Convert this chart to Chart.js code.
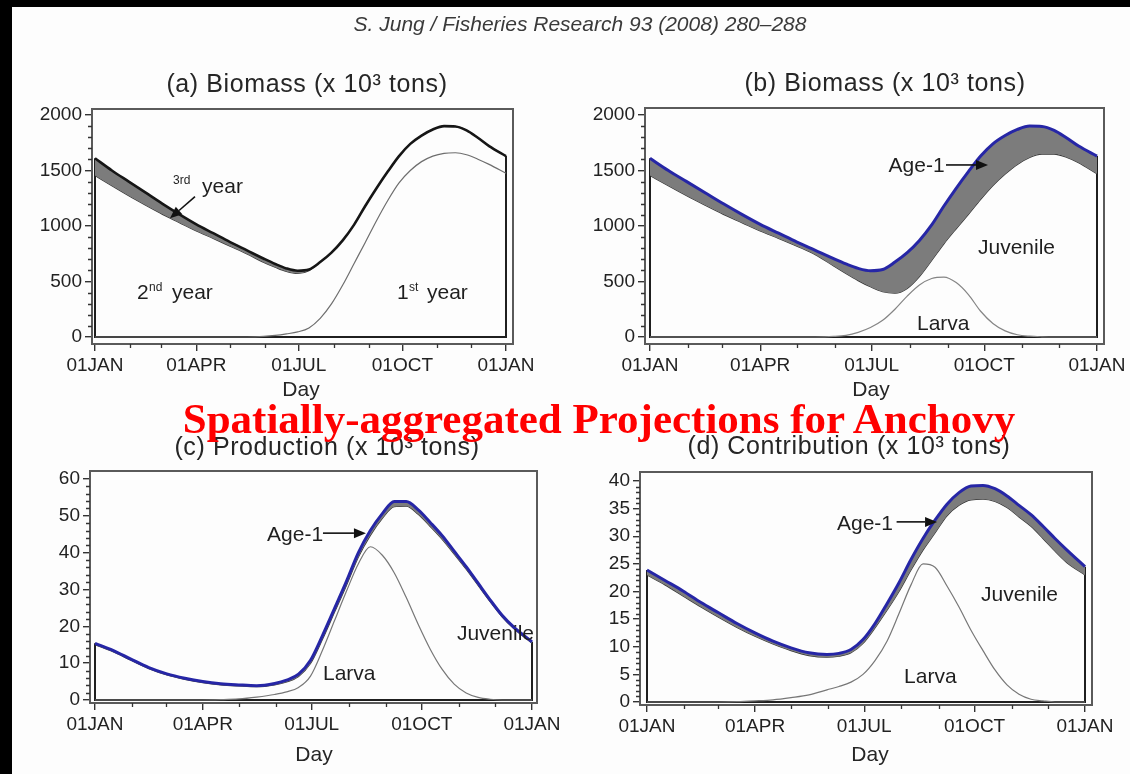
<!DOCTYPE html>
<html>
<head>
<meta charset="utf-8">
<script src="https://cdn.jsdelivr.net/npm/chart.js@4.4.1/dist/chart.umd.min.js"></script>
<style>
  html, body { margin: 0; padding: 0; background: #fff; }
  #page { position: relative; width: 1130px; height: 774px; overflow: hidden; background: #fdfdfd; }
  #page canvas { position: absolute; left: 0; top: 0; }
  .edge { position: absolute; background: #000; z-index: 5; }
  #header { position: absolute; left: 0; top: 12px; width: 1160px; text-align: center;
            font: italic 21px "Liberation Sans", Arial, sans-serif; color: #3a3a3a; white-space: nowrap; z-index: 4; }
  #banner { position: absolute; left: 599px; top: 397px; transform: translateX(-50%);
            font: bold 43px/43px "Liberation Serif", "Times New Roman", serif; color: #ff0000;
            white-space: nowrap; z-index: 6; }
</style>
</head>
<body>
<div id="page">
  <div class="edge" style="left:0;top:0;width:1130px;height:7px"></div>
  <div class="edge" style="left:0;top:0;width:12px;height:774px"></div>
  <div id="header">S. Jung / Fisheries Research 93 (2008) 280–288</div>
  <canvas id="panelA" width="1130" height="774"></canvas>
  <canvas id="panelB" width="1130" height="774"></canvas>
  <canvas id="panelC" width="1130" height="774"></canvas>
  <canvas id="panelD" width="1130" height="774"></canvas>
  <div id="banner">Spatially-aggregated Projections for Anchovy</div>
</div>
<script>
// ---- data: day of year (0 = 01JAN, 365 = next 01JAN) ----
const DAYS = [0, 15, 30, 45, 60, 75, 90, 105, 120, 135, 150, 160, 170, 180, 190, 200,
              210, 220, 230, 240, 250, 260, 270, 280, 290, 300, 310, 320, 330, 340, 350, 365];

const MONTH_TICKS  = [0, 90, 181, 273, 365];
const MONTH_LABELS = ['01JAN', '01APR', '01JUL', '01OCT', '01JAN'];
const MONTH_MINOR  = [31, 59, 120, 151, 212, 243, 304, 334];

// (a) and (b) biomass, x 10^3 tons
const biomassTotal = [1610, 1500, 1400, 1300, 1200, 1105, 1015, 935, 855, 780, 705, 658, 618, 597, 608, 675,
                      760, 870, 1010, 1180, 1340, 1490, 1630, 1740, 1815, 1870, 1900, 1897, 1862, 1795, 1720, 1630];
const biomassSecondYearTop = [1455, 1362, 1272, 1187, 1105, 1030, 955, 888, 818, 748, 672, 628, 590, 572, 598, 675,
                      760, 870, 1010, 1180, 1340, 1490, 1630, 1740, 1815, 1870, 1900, 1897, 1862, 1795, 1720, 1630];
const biomassFirstYear = [0, 0, 0, 0, 0, 0, 0, 0, 0, 0, 5, 14, 28, 46, 82, 168,
                      298, 468, 660, 852, 1048, 1230, 1388, 1500, 1580, 1630, 1655, 1660, 1642, 1602, 1555, 1475];
const biomassJuvenileTop = [1455, 1362, 1272, 1187, 1105, 1030, 955, 888, 818, 742, 640, 572, 508, 452, 408, 395,
                      438, 545, 690, 840, 975, 1105, 1240, 1365, 1468, 1555, 1618, 1648, 1648, 1620, 1570, 1470];
const biomassLarva = [0, 0, 0, 0, 0, 0, 0, 0, 0, 0, 5, 15, 42, 85, 150, 250,
                      368, 468, 527, 540, 490, 382, 232, 122, 55, 20, 7, 2, 0, 0, 0, 0];

// (c) production, x 10^3 tons
const productionTotal = [15.4, 13.5, 11.1, 8.8, 7.1, 5.9, 5.0, 4.4, 4.1, 3.9, 4.5, 5.4, 7.0, 10.8, 17.5, 24.8,
                      32.2, 40.0, 46.0, 50.6, 53.9, 53.9, 51.6, 48.2, 44.6, 40.4, 36.2, 31.7, 27.2, 23.0, 19.7, 15.8];
const productionJuvenileTop = [15.0, 13.1, 10.8, 8.5, 6.8, 5.6, 4.7, 4.1, 3.8, 3.6, 4.1, 4.9, 6.4, 9.9, 16.5, 23.8,
                      31.1, 38.8, 44.7, 49.3, 52.5, 52.6, 50.4, 47.1, 43.6, 39.6, 35.5, 31.1, 26.7, 22.6, 19.3, 15.4];
const productionLarva = [0, 0, 0, 0, 0, 0, 0, 0.1, 0.3, 0.8, 1.5, 2.2, 3.4, 6.5, 13.5, 21.5,
                      29.5, 37.0, 41.6, 39.3, 34.5, 27.8, 20.5, 13.8, 8.3, 4.3, 1.9, 0.7, 0.2, 0, 0, 0];

// (d) contribution, x 10^3 tons
const contributionTotal = [23.9, 22.0, 20.1, 18.0, 16.1, 14.2, 12.5, 11.0, 9.8, 8.9, 8.6, 8.8, 9.5, 11.3, 14.2, 17.8,
                      21.6, 25.8, 29.6, 32.9, 35.8, 37.9, 39.1, 39.2, 38.6, 37.3, 35.6, 33.9, 31.8, 29.6, 27.5, 24.5];
const contributionJuvenileTop = [23.0, 21.2, 19.2, 17.2, 15.3, 13.5, 11.9, 10.5, 9.3, 8.4, 8.1, 8.3, 8.9, 10.6, 13.4, 16.6,
                      20.0, 23.9, 27.5, 30.6, 33.7, 35.6, 36.6, 36.7, 36.3, 35.2, 33.5, 31.8, 29.6, 27.3, 25.2, 23.0];
const contributionLarva = [0, 0, 0, 0, 0, 0.05, 0.2, 0.4, 0.8, 1.3, 2.2, 2.8, 3.6, 5.0, 7.5, 11.0,
                      16.0, 21.2, 25.0, 24.4, 21.0, 17.2, 13.0, 9.3, 5.8, 3.1, 1.4, 0.5, 0.2, 0, 0, 0];

// ---- styling ----
const FONT = '"Liberation Sans", Arial, Helvetica, sans-serif';
const INK = '#1f1f1f';
const BLUE = '#2626a6';
const BAND = '#7c7c7c';
const W = 1130, H = 774;
const Y_AXIS_BOX = 70;   // room kept left of each frame for the value labels
const X_AXIS_BOX = 40;   // room kept under each frame for the date labels

const pts = vals => DAYS.map((d, i) => ({ x: d, y: vals[i] }));
// outline of the stacked polygons: vertical ends and the zero baseline
const ends = top => [{ x: 0, y: top[0] }, { x: 0, y: 0 }, { x: 365, y: 0 }, { x: 365, y: top[top.length - 1] }];

function drawText(ctx, text, x, y, size, opt = {}) {
  ctx.font = (opt.italic ? 'italic ' : '') + size + 'px ' + FONT;
  ctx.textAlign = opt.align || 'left';
  ctx.textBaseline = opt.baseline || 'alphabetic';
  ctx.fillStyle = opt.color || INK;
  if ('letterSpacing' in ctx) ctx.letterSpacing = (opt.spacing || 0) + 'px';
  ctx.fillText(text, x, y);
  if ('letterSpacing' in ctx) ctx.letterSpacing = '0px';
}

// frame, minor ticks, titles, labels and arrows
const decorations = {
  id: 'decorations',
  afterDraw(chart, args, o) {
    const { ctx, chartArea: a, scales: { x, y } } = chart;
    ctx.save();
    // plot frame
    ctx.strokeStyle = '#5a5a5a';
    ctx.lineWidth = 2;
    ctx.strokeRect(a.left, a.top, a.right - a.left, a.bottom - a.top);
    // minor ticks
    ctx.strokeStyle = '#333';
    ctx.lineWidth = 1.3;
    ctx.beginPath();
    MONTH_MINOR.forEach(d => {
      const px = Math.round(x.getPixelForValue(d)) + 0.5;
      ctx.moveTo(px, a.bottom); ctx.lineTo(px, a.bottom + 4);
    });
    const nMinor = Math.round(o.yTop / o.yMinor);
    const perMajor = Math.round(o.yStep / o.yMinor);
    for (let k = 0; k <= nMinor; k++) {
      if (k % perMajor === 0) continue;
      const py = Math.round(y.getPixelForValue(k * o.yMinor)) + 0.5;
      ctx.moveTo(a.left, py); ctx.lineTo(a.left - 4, py);
    }
    ctx.stroke();
    // panel title and axis title
    drawText(ctx, o.title, o.titleAt[0], o.titleAt[1], 25, { align: 'center', baseline: 'middle', spacing: 0.6, color: '#262626' });
    drawText(ctx, 'Day', o.dayAt[0], o.dayAt[1], 21, { align: 'center', baseline: 'middle', color: '#262626' });
    // in-plot labels, anchored at data coordinates (left edge, baseline)
    o.labels.forEach(l => {
      const bx = x.getPixelForValue(l.at[0]);
      const by = y.getPixelForValue(l.at[1]);
      l.parts.forEach(p => drawText(ctx, p[0], bx + p[1], by + (p[3] || 0), p[2]));
    });
    // arrows
    o.arrows.forEach(ar => {
      const x0 = x.getPixelForValue(ar.from[0]), y0 = y.getPixelForValue(ar.from[1]);
      const x1 = x.getPixelForValue(ar.to[0]), y1 = y.getPixelForValue(ar.to[1]);
      const ang = Math.atan2(y1 - y0, x1 - x0);
      const len = 12, half = 5;
      const bx = x1 - len * Math.cos(ang), by = y1 - len * Math.sin(ang);
      ctx.strokeStyle = '#111';
      ctx.lineWidth = 1.6;
      ctx.beginPath(); ctx.moveTo(x0, y0); ctx.lineTo(bx, by); ctx.stroke();
      ctx.fillStyle = '#111';
      ctx.beginPath();
      ctx.moveTo(x1, y1);
      ctx.lineTo(bx + half * Math.sin(ang), by - half * Math.cos(ang));
      ctx.lineTo(bx - half * Math.sin(ang), by + half * Math.cos(ang));
      ctx.closePath(); ctx.fill();
    });
    ctx.restore();
  }
};

function makePanel(canvasId, g, datasets, deco) {
  // g.frame = plot frame in page pixels; day 0/365 and 0/yTop land on g.xPix / g.yPix
  const f = g.frame;
  const pxDay = (g.xPix[1] - g.xPix[0]) / 365;
  const pxUnit = (g.yPix[1] - g.yPix[0]) / g.yTop;
  const xMin = -(g.xPix[0] - f.l) / pxDay;
  const xMax = 365 + (f.r - g.xPix[1]) / pxDay;
  const yMax = g.yTop + (g.yPix[0] - f.t) / pxUnit;
  const yMin = -(f.b - g.yPix[1]) / pxUnit;
  const yMajors = [];
  for (let v = 0; v <= g.yTop + 1e-9; v += g.yStep) yMajors.push(+v.toFixed(6));

  const tickFont = { family: FONT, size: 19 };
  return new Chart(document.getElementById(canvasId), {
    type: 'line',
    data: { datasets },
    options: {
      responsive: false,
      animation: false,
      devicePixelRatio: 1,
      layout: { padding: { left: f.l - Y_AXIS_BOX, top: f.t, right: W - f.r, bottom: H - f.b - X_AXIS_BOX } },
      plugins: {
        legend: { display: false },
        tooltip: { enabled: false },
        title: { display: false },
        decorations: Object.assign({ yTop: g.yTop, yStep: g.yStep, yMinor: g.yMinor }, deco)
      },
      elements: { point: { radius: 0 } },
      scales: {
        x: {
          type: 'linear', min: xMin, max: xMax,
          afterFit(s) { s.height = X_AXIS_BOX; s.paddingLeft = 0; s.paddingRight = 0; },
          afterBuildTicks(s) { s.ticks = MONTH_TICKS.map(v => ({ value: v })); },
          ticks: { autoSkip: false, maxRotation: 0, minRotation: 0, padding: 3, color: '#222', font: tickFont,
                   callback: (v, i) => MONTH_LABELS[i] },
          grid: { drawOnChartArea: false, drawTicks: true, tickLength: 7, color: '#333', lineWidth: 1.4 },
          border: { display: true, color: '#5a5a5a', width: 2 }
        },
        y: {
          type: 'linear', min: yMin, max: yMax,
          afterFit(s) { s.width = Y_AXIS_BOX; s.paddingTop = 0; s.paddingBottom = 0; },
          afterBuildTicks(s) { s.ticks = yMajors.map(v => ({ value: v })); },
          ticks: { padding: 3, color: '#222', font: tickFont, callback: v => String(v) },
          grid: { drawOnChartArea: false, drawTicks: true, tickLength: 7, color: '#333', lineWidth: 1.4 },
          border: { display: true, color: '#5a5a5a', width: 2 }
        }
      }
    },
    plugins: [decorations]
  });
}

const curve = { cubicInterpolationMode: 'monotone', pointRadius: 0 };
const outline = top => ({ data: ends(top), borderColor: INK, borderWidth: 2, tension: 0, fill: false, pointRadius: 0 });

// (a) biomass by age class
makePanel('panelA',
  { frame: { l: 92, t: 109, r: 513, b: 344 }, xPix: [95, 506], yPix: [115, 337], yTop: 2000, yStep: 500, yMinor: 100 },
  [
    Object.assign({ data: pts(biomassTotal), borderColor: '#161616', borderWidth: 2.6, fill: 1, backgroundColor: BAND }, curve),
    Object.assign({ data: pts(biomassSecondYearTop), borderColor: '#333', borderWidth: 1.2, fill: false }, curve),
    Object.assign({ data: pts(biomassFirstYear), borderColor: '#6e6e6e', borderWidth: 1.2, fill: false }, curve),
    outline(biomassTotal)
  ],
  {
    title: '(a) Biomass (x 10³ tons)', titleAt: [307, 85], dayAt: [301, 390],
    labels: [
      { at: [69.3, 1297], parts: [['3rd', 0, 12, -9], ['year', 29, 21]] },
      { at: [37.3, 342], parts: [['2', 0, 21], ['nd', 12, 12, -8], ['year', 35, 21]] },
      { at: [268.2, 342], parts: [['1', 0, 21], ['st', 12, 12, -8], ['year', 30, 21]] }
    ],
    arrows: [{ from: [88.8, 1264], to: [66.6, 1069] }]
  });

// (b) biomass by life stage
makePanel('panelB',
  { frame: { l: 645, t: 108, r: 1104, b: 344 }, xPix: [650, 1097], yPix: [115, 337], yTop: 2000, yStep: 500, yMinor: 100 },
  [
    Object.assign({ data: pts(biomassTotal), borderColor: BLUE, borderWidth: 3, fill: 1, backgroundColor: BAND }, curve),
    Object.assign({ data: pts(biomassJuvenileTop), borderColor: '#333', borderWidth: 1.2, fill: false }, curve),
    Object.assign({ data: pts(biomassLarva), borderColor: '#858585', borderWidth: 1.2, fill: false }, curve),
    outline(biomassTotal)
  ],
  {
    title: '(b) Biomass (x 10³ tons)', titleAt: [885, 84], dayAt: [871, 390],
    labels: [
      { at: [194.8, 1482], parts: [['Age-1', 0, 21]] },
      { at: [267.8, 752], parts: [['Juvenile', 0, 21]] },
      { at: [218, 58.6], parts: [['Larva', 0, 21]] }
    ],
    arrows: [{ from: [241.7, 1550], to: [276, 1550] }]
  });

// (c) production by life stage
makePanel('panelC',
  { frame: { l: 90, t: 471, r: 537, b: 703 }, xPix: [95, 532], yPix: [479, 700], yTop: 60, yStep: 10, yMinor: 2 },
  [
    Object.assign({ data: pts(productionTotal), borderColor: BLUE, borderWidth: 3, fill: 1, backgroundColor: BAND }, curve),
    Object.assign({ data: pts(productionJuvenileTop), borderColor: '#333', borderWidth: 1.2, fill: false }, curve),
    Object.assign({ data: pts(productionLarva), borderColor: '#777', borderWidth: 1.2, fill: false }, curve),
    outline(productionTotal)
  ],
  {
    title: '(c) Production (x 10³ tons)', titleAt: [327, 448], dayAt: [314, 755],
    labels: [
      { at: [143.7, 43.3], parts: [['Age-1', 0, 21]] },
      { at: [190.4, 5.3], parts: [['Larva', 0, 21]] },
      { at: [302.3, 16.4], parts: [['Juvenile', 0, 21]] }
    ],
    arrows: [{ from: [190.4, 45.3], to: [226.3, 45.3] }]
  });

// (d) contribution by life stage
makePanel('panelD',
  { frame: { l: 640, t: 472, r: 1092, b: 705 }, xPix: [647, 1085], yPix: [481, 702], yTop: 40, yStep: 5, yMinor: 1 },
  [
    Object.assign({ data: pts(contributionTotal), borderColor: BLUE, borderWidth: 3, fill: 1, backgroundColor: BAND }, curve),
    Object.assign({ data: pts(contributionJuvenileTop), borderColor: '#333', borderWidth: 1.2, fill: false }, curve),
    Object.assign({ data: pts(contributionLarva), borderColor: '#777', borderWidth: 1.2, fill: false }, curve),
    outline(contributionTotal)
  ],
  {
    title: '(d) Contribution (x 10³ tons)', titleAt: [849, 447], dayAt: [870, 755],
    labels: [
      { at: [158.3, 31.2], parts: [['Age-1', 0, 21]] },
      { at: [278.3, 18.3], parts: [['Juvenile', 0, 21]] },
      { at: [214.2, 3.5], parts: [['Larva', 0, 21]] }
    ],
    arrows: [{ from: [208, 32.6], to: [241.7, 32.6] }]
  });
</script>
</body>
</html>
